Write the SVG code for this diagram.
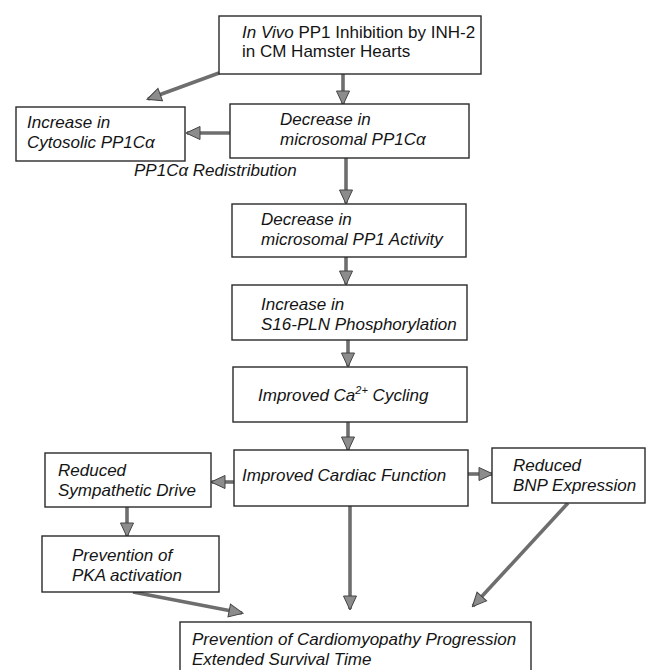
<svg xmlns="http://www.w3.org/2000/svg" width="649" height="670" viewBox="0 0 649 670">
<defs>
<style>
.box{fill:#fff;stroke:#2a2a2a;stroke-width:1.4}
.t{font-family:"Liberation Sans",Arial,sans-serif;font-size:17px;font-style:italic;fill:#141414}
.n{font-style:normal}
.c{stroke:#6e6e6e;stroke-width:3.6;fill:none}
</style>
<marker id="ah" markerUnits="userSpaceOnUse" markerWidth="16" markerHeight="16" viewBox="0 0 16 16" refX="14" refY="8" orient="auto">
<path d="M1,1.5 L15,8 L1,14.5 Z" fill="#8c8c8c" stroke="#444" stroke-width="1"/>
</marker>
</defs>
<rect width="649" height="670" fill="#fff"/>

<g id="connectors">
<line class="c" x1="219" y1="73" x2="148" y2="99" marker-end="url(#ah)"/>
<line class="c" x1="343" y1="74" x2="343" y2="104" marker-end="url(#ah)"/>
<line class="c" x1="230" y1="133" x2="187" y2="133" marker-end="url(#ah)"/>
<line class="c" x1="346" y1="158" x2="346" y2="203" marker-end="url(#ah)"/>
<line class="c" x1="346" y1="257" x2="346" y2="284" marker-end="url(#ah)"/>
<line class="c" x1="348" y1="340" x2="348" y2="366" marker-end="url(#ah)"/>
<line class="c" x1="348" y1="422" x2="348" y2="450" marker-end="url(#ah)"/>
<line class="c" x1="234" y1="482" x2="212" y2="482" marker-end="url(#ah)"/>
<line class="c" x1="468" y1="474" x2="492" y2="474" marker-end="url(#ah)"/>
<line class="c" x1="127" y1="507" x2="127" y2="536" marker-end="url(#ah)"/>
<line class="c" x1="133" y1="592" x2="242" y2="613" marker-end="url(#ah)"/>
<line class="c" x1="350" y1="506" x2="350" y2="609" marker-end="url(#ah)"/>
<line class="c" x1="568" y1="503" x2="473" y2="606" marker-end="url(#ah)"/>
</g>

<g id="n-inh2">
<rect class="box" x="219" y="16" width="262" height="58"/>
<text class="t" x="242" y="38">In Vivo<tspan class="n"> PP1 Inhibition by INH-2</tspan></text>
<text class="t n" x="242" y="57">in CM Hamster Hearts</text>
</g>

<g id="n-cyto">
<rect class="box" x="16" y="107" width="169" height="54"/>
<text class="t" x="27" y="128">Increase in</text>
<text class="t" x="27" y="148">Cytosolic PP1Cα</text>
</g>

<g id="n-micro">
<rect class="box" x="230" y="104" width="239" height="54"/>
<text class="t" x="280" y="125">Decrease in</text>
<text class="t" x="280" y="145">microsomal PP1Cα</text>
</g>

<g id="lbl-redist">
<text class="t" x="134" y="176">PP1Cα Redistribution</text>
</g>

<g id="n-activity">
<rect class="box" x="232" y="204" width="234" height="53"/>
<text class="t" x="261" y="225">Decrease in</text>
<text class="t" x="261" y="245">microsomal PP1 Activity</text>
</g>

<g id="n-s16">
<rect class="box" x="232" y="285" width="235" height="55"/>
<text class="t" x="261" y="310">Increase in</text>
<text class="t" x="261" y="330">S16-PLN Phosphorylation</text>
</g>

<g id="n-ca">
<rect class="box" x="233" y="367" width="234" height="55"/>
<text class="t" x="258" y="401">Improved Ca<tspan dy="-7" font-size="11">2+</tspan><tspan dy="7"> Cycling</tspan></text>
</g>

<g id="n-cardiac">
<rect class="box" x="234" y="450" width="234" height="56"/>
<text class="t" x="242" y="481">Improved Cardiac Function</text>
</g>

<g id="n-symp">
<rect class="box" x="45" y="453" width="166" height="54"/>
<text class="t" x="58" y="476">Reduced</text>
<text class="t" x="58" y="496">Sympathetic Drive</text>
</g>

<g id="n-bnp">
<rect class="box" x="492" y="448" width="153" height="55"/>
<text class="t" x="513" y="471">Reduced</text>
<text class="t" x="513" y="491">BNP Expression</text>
</g>

<g id="n-pka">
<rect class="box" x="42" y="536" width="177" height="56"/>
<text class="t" x="72" y="561">Prevention of</text>
<text class="t" x="72" y="581">PKA activation</text>
</g>

<g id="n-final">
<rect class="box" x="180" y="622" width="351" height="60"/>
<text class="t" x="192" y="645">Prevention of Cardiomyopathy Progression</text>
<text class="t" x="192" y="665">Extended  Survival Time</text>
</g>
</svg>
